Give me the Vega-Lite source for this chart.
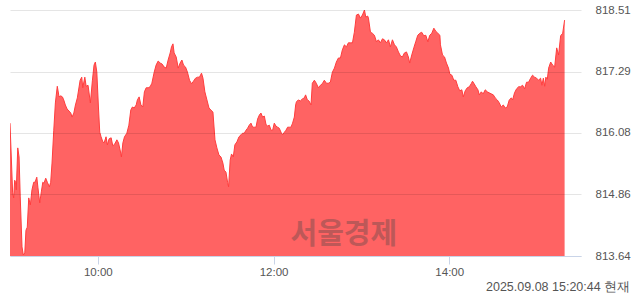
{
"$schema": "https://vega.github.io/schema/vega-lite/v6.json",
"width": 571, "height": 246,
"autosize": "none",
"padding": {"left": 10, "top": 10, "right": 59, "bottom": 38},
"background": "white",
"config": {"view": {"stroke": null}, "font": "Liberation Sans"},
"title": {"text": "2025.09.08 15:20:44 현재", "orient": "bottom", "anchor": "end", "frame": "bounds", "fontSize": 12.5, "fontWeight": "normal", "color": "#555", "offset": 3, "font": "Liberation Sans"},
"layer": [
{
"data": {"values": [
{"minute":0,"value":816.27},{"minute":1.8,"value":814.89},{"minute":2.5,"value":814.79},{"minute":3.2,"value":815.14},{"minute":3.8,"value":815.10},{"minute":4.3,"value":814.95},{"minute":5.3,"value":815.78},{"minute":6.2,"value":815.60},{"minute":7.0,"value":814.81},{"minute":8.2,"value":813.82},{"minute":9.1,"value":813.66},{"minute":10.1,"value":813.70},{"minute":10.9,"value":814.15},{"minute":11.8,"value":814.21},{"minute":12.8,"value":814.79},{"minute":13.9,"value":814.65},{"minute":15.0,"value":814.95},{"minute":16.2,"value":815.10},{"minute":17.1,"value":815.10},{"minute":18.3,"value":815.20},{"minute":19.1,"value":814.99},{"minute":20.3,"value":814.69},{"minute":21.4,"value":814.91},{"minute":22.4,"value":815.10},{"minute":23.2,"value":815.08},{"minute":24.4,"value":815.18},{"minute":25.5,"value":815.10},{"minute":26.9,"value":815.01},{"minute":27.8,"value":815.10},{"minute":28.7,"value":815.48},{"minute":29.9,"value":816.13},{"minute":31.0,"value":816.67},{"minute":32.3,"value":817.00},{"minute":33.5,"value":816.79},{"minute":34.7,"value":816.81},{"minute":35.8,"value":816.79},{"minute":36.7,"value":816.73},{"minute":37.8,"value":816.63},{"minute":39.0,"value":816.55},{"minute":40.3,"value":816.51},{"minute":41.5,"value":816.47},{"minute":42.4,"value":816.39},{"minute":43.6,"value":816.47},{"minute":44.7,"value":816.63},{"minute":46.0,"value":816.77},{"minute":47.9,"value":817.12},{"minute":49.0,"value":817.18},{"minute":49.7,"value":816.97},{"minute":51.1,"value":817.18},{"minute":52.0,"value":817.00},{"minute":53.3,"value":817.02},{"minute":54.9,"value":816.67},{"minute":56.3,"value":817.12},{"minute":57.4,"value":817.42},{"minute":58.3,"value":817.48},{"minute":59.3,"value":817.28},{"minute":60.4,"value":816.59},{"minute":61.3,"value":816.09},{"minute":62.2,"value":816.00},{"minute":63.4,"value":815.90},{"minute":64.3,"value":815.88},{"minute":65.6,"value":816.00},{"minute":66.5,"value":815.84},{"minute":67.7,"value":815.96},{"minute":69.1,"value":815.98},{"minute":70.2,"value":815.82},{"minute":71.6,"value":815.86},{"minute":73.0,"value":815.94},{"minute":74.1,"value":815.88},{"minute":75.2,"value":815.74},{"minute":76.1,"value":815.60},{"minute":77.1,"value":815.88},{"minute":78.2,"value":816.00},{"minute":79.8,"value":816.07},{"minute":81.2,"value":816.23},{"minute":82.5,"value":816.53},{"minute":83.6,"value":816.59},{"minute":84.8,"value":816.57},{"minute":86.2,"value":816.63},{"minute":87.0,"value":816.73},{"minute":88.2,"value":816.79},{"minute":89.4,"value":816.63},{"minute":90.7,"value":816.59},{"minute":91.8,"value":816.89},{"minute":93.0,"value":816.97},{"minute":94.4,"value":816.97},{"minute":95.7,"value":816.99},{"minute":96.9,"value":817.06},{"minute":98.5,"value":817.28},{"minute":99.8,"value":817.42},{"minute":101.2,"value":817.50},{"minute":102.6,"value":817.46},{"minute":103.9,"value":817.44},{"minute":105.3,"value":817.38},{"minute":106.7,"value":817.36},{"minute":108.0,"value":817.52},{"minute":109.4,"value":817.66},{"minute":110.3,"value":817.78},{"minute":111.3,"value":817.84},{"minute":112.1,"value":817.66},{"minute":113.5,"value":817.58},{"minute":114.9,"value":817.36},{"minute":116.2,"value":817.46},{"minute":117.4,"value":817.52},{"minute":118.5,"value":817.42},{"minute":119.9,"value":817.38},{"minute":121.2,"value":817.28},{"minute":122.6,"value":817.12},{"minute":124.0,"value":817.05},{"minute":125.3,"value":817.10},{"minute":126.7,"value":817.16},{"minute":128.1,"value":817.18},{"minute":129.4,"value":817.18},{"minute":130.8,"value":817.26},{"minute":131.8,"value":817.16},{"minute":133.1,"value":816.89},{"minute":134.5,"value":816.73},{"minute":135.9,"value":816.57},{"minute":137.2,"value":816.53},{"minute":138.6,"value":816.49},{"minute":140.0,"value":815.94},{"minute":141.3,"value":815.78},{"minute":142.7,"value":815.64},{"minute":144.1,"value":815.60},{"minute":145.4,"value":815.48},{"minute":146.3,"value":815.34},{"minute":147.5,"value":815.30},{"minute":148.6,"value":815.10},{"minute":149.3,"value":815.01},{"minute":150.4,"value":815.54},{"minute":151.3,"value":815.66},{"minute":152.5,"value":815.60},{"minute":153.6,"value":815.84},{"minute":155.0,"value":815.90},{"minute":156.4,"value":816.00},{"minute":157.8,"value":816.04},{"minute":158.8,"value":816.07},{"minute":160.0,"value":816.07},{"minute":161.2,"value":816.13},{"minute":162.3,"value":816.17},{"minute":163.4,"value":816.23},{"minute":164.6,"value":816.27},{"minute":165.7,"value":816.19},{"minute":166.8,"value":816.19},{"minute":168.0,"value":816.19},{"minute":169.1,"value":816.35},{"minute":170.3,"value":816.43},{"minute":171.4,"value":816.47},{"minute":172.5,"value":816.39},{"minute":173.7,"value":816.41},{"minute":174.8,"value":816.25},{"minute":175.9,"value":816.21},{"minute":177.1,"value":816.23},{"minute":178.3,"value":816.13},{"minute":179.4,"value":816.13},{"minute":180.5,"value":816.27},{"minute":181.7,"value":816.21},{"minute":182.8,"value":816.19},{"minute":183.9,"value":816.17},{"minute":185.1,"value":816.09},{"minute":186.2,"value":816.04},{"minute":187.4,"value":816.09},{"minute":188.5,"value":816.13},{"minute":189.6,"value":816.19},{"minute":190.8,"value":816.19},{"minute":191.9,"value":816.19},{"minute":193.0,"value":816.27},{"minute":194.2,"value":816.39},{"minute":195.1,"value":816.63},{"minute":195.6,"value":816.69},{"minute":196.9,"value":816.73},{"minute":198.3,"value":816.71},{"minute":199.7,"value":816.75},{"minute":201.0,"value":816.77},{"minute":201.9,"value":816.83},{"minute":203.1,"value":816.73},{"minute":204.2,"value":816.71},{"minute":205.6,"value":816.63},{"minute":206.5,"value":817.06},{"minute":207.9,"value":817.12},{"minute":209.2,"value":817.06},{"minute":210.6,"value":816.97},{"minute":212.0,"value":817.02},{"minute":213.3,"value":817.05},{"minute":214.7,"value":817.12},{"minute":216.1,"value":817.06},{"minute":217.4,"value":817.06},{"minute":218.8,"value":817.08},{"minute":220.2,"value":817.28},{"minute":221.6,"value":817.36},{"minute":222.9,"value":817.48},{"minute":224.3,"value":817.56},{"minute":225.7,"value":817.56},{"minute":227.0,"value":817.72},{"minute":228.4,"value":817.82},{"minute":229.8,"value":817.78},{"minute":231.1,"value":817.86},{"minute":232.5,"value":817.86},{"minute":233.9,"value":817.86},{"minute":235.2,"value":818.07},{"minute":236.6,"value":818.41},{"minute":238.0,"value":818.43},{"minute":239.3,"value":818.35},{"minute":240.7,"value":818.41},{"minute":242.1,"value":818.51},{"minute":243.0,"value":818.37},{"minute":244.3,"value":818.39},{"minute":244.8,"value":818.35},{"minute":246.2,"value":818.07},{"minute":247.5,"value":818.05},{"minute":248.9,"value":818.01},{"minute":250.3,"value":817.88},{"minute":251.6,"value":817.92},{"minute":253.0,"value":817.86},{"minute":254.4,"value":817.94},{"minute":255.7,"value":817.92},{"minute":257.1,"value":817.86},{"minute":258.5,"value":817.92},{"minute":259.8,"value":817.78},{"minute":261.2,"value":817.92},{"minute":262.6,"value":817.82},{"minute":263.9,"value":817.78},{"minute":265.3,"value":817.68},{"minute":266.7,"value":817.60},{"minute":268.0,"value":817.58},{"minute":269.4,"value":817.66},{"minute":270.8,"value":817.68},{"minute":272.1,"value":817.58},{"minute":273.0,"value":817.46},{"minute":274.4,"value":817.62},{"minute":275.8,"value":817.76},{"minute":277.1,"value":817.88},{"minute":278.5,"value":818.01},{"minute":279.9,"value":818.05},{"minute":281.2,"value":818.07},{"minute":282.6,"value":818.00},{"minute":284.0,"value":818.01},{"minute":285.4,"value":817.88},{"minute":286.7,"value":818.01},{"minute":288.1,"value":818.05},{"minute":289.5,"value":818.15},{"minute":290.8,"value":818.09},{"minute":292.2,"value":818.05},{"minute":293.6,"value":818.01},{"minute":294.0,"value":817.82},{"minute":295.4,"value":817.62},{"minute":296.8,"value":817.58},{"minute":298.1,"value":817.46},{"minute":299.5,"value":817.36},{"minute":300.4,"value":817.24},{"minute":301.8,"value":817.22},{"minute":303.1,"value":817.12},{"minute":304.5,"value":817.12},{"minute":305.9,"value":816.99},{"minute":307.2,"value":816.91},{"minute":308.6,"value":816.93},{"minute":309.6,"value":816.79},{"minute":310.9,"value":816.91},{"minute":312.3,"value":816.97},{"minute":313.7,"value":816.99},{"minute":315.0,"value":817.05},{"minute":315.9,"value":817.10},{"minute":316.8,"value":817.06},{"minute":318.2,"value":816.99},{"minute":319.6,"value":816.93},{"minute":320.5,"value":816.83},{"minute":321.9,"value":816.89},{"minute":323.2,"value":816.85},{"minute":324.6,"value":816.93},{"minute":326.0,"value":816.89},{"minute":327.3,"value":816.87},{"minute":328.7,"value":816.85},{"minute":330.1,"value":816.83},{"minute":331.4,"value":816.77},{"minute":332.8,"value":816.73},{"minute":334.2,"value":816.67},{"minute":335.5,"value":816.59},{"minute":336.9,"value":816.63},{"minute":338.3,"value":816.57},{"minute":339.6,"value":816.59},{"minute":341.0,"value":816.73},{"minute":342.4,"value":816.77},{"minute":343.3,"value":816.73},{"minute":344.6,"value":816.87},{"minute":346.0,"value":816.95},{"minute":347.4,"value":816.99},{"minute":348.7,"value":816.99},{"minute":350.1,"value":817.02},{"minute":351.5,"value":816.95},{"minute":352.8,"value":817.08},{"minute":354.2,"value":817.08},{"minute":355.6,"value":817.16},{"minute":356.9,"value":817.22},{"minute":358.3,"value":817.18},{"minute":359.7,"value":817.16},{"minute":361.0,"value":817.12},{"minute":362.4,"value":817.16},{"minute":363.3,"value":817.02},{"minute":364.3,"value":817.16},{"minute":365.2,"value":817.00},{"minute":366.0,"value":817.18},{"minute":367.0,"value":817.14},{"minute":367.9,"value":817.36},{"minute":369.3,"value":817.48},{"minute":370.6,"value":817.42},{"minute":372.0,"value":817.38},{"minute":373.4,"value":817.76},{"minute":374.7,"value":817.62},{"minute":376.1,"value":818.00},{"minute":377.5,"value":818.05},{"minute":378.8,"value":818.31}
]},
"mark": {"type": "area", "color": "#ff6363", "fillOpacity": 1, "clip": true, "line": {"color": "#ff3d3d", "strokeWidth": 1}},
"encoding": {
"x": {"field": "minute", "type": "quantitative", "scale": {"domain": [0, 390], "nice": false, "zero": false},
 "axis": {"values": [60, 180, 300], "labelExpr": "(9 + datum.value / 60) + ':00'", "title": null, "grid": false, "domainColor": "#c9d4e8", "tickColor": "#c9d4e8", "tickSize": 8, "labelColor": "#555", "labelFontSize": 11.5, "labelPadding": 2, "labelFont": "Liberation Sans", "zindex": 1}},
"y": {"field": "value", "type": "quantitative", "scale": {"domain": [813.64, 818.51], "nice": false, "zero": false},
 "axis": {"orient": "right", "values": [813.64, 814.86, 816.08, 817.29, 818.51], "format": ".2f", "title": null, "domain": false, "ticks": false, "labelPadding": 14, "grid": true, "gridColor": "#000", "gridOpacity": 0.1, "labelColor": "#555", "labelFontSize": 11.5, "labelFont": "Liberation Sans", "zindex": 1}}
}
},
{
"data": {"values": [{"label": "서울경제"}]},
"mark": {"type": "text", "font": "Noto Sans CJK KR", "fontWeight": "bold", "fontSize": 29, "color": "#444", "opacity": 0.35, "align": "center", "baseline": "middle"},
"encoding": {
"x": {"datum": 228, "type": "quantitative"},
"y": {"datum": 814.06, "type": "quantitative"},
"text": {"field": "label", "type": "nominal"}
}
}
]
}
